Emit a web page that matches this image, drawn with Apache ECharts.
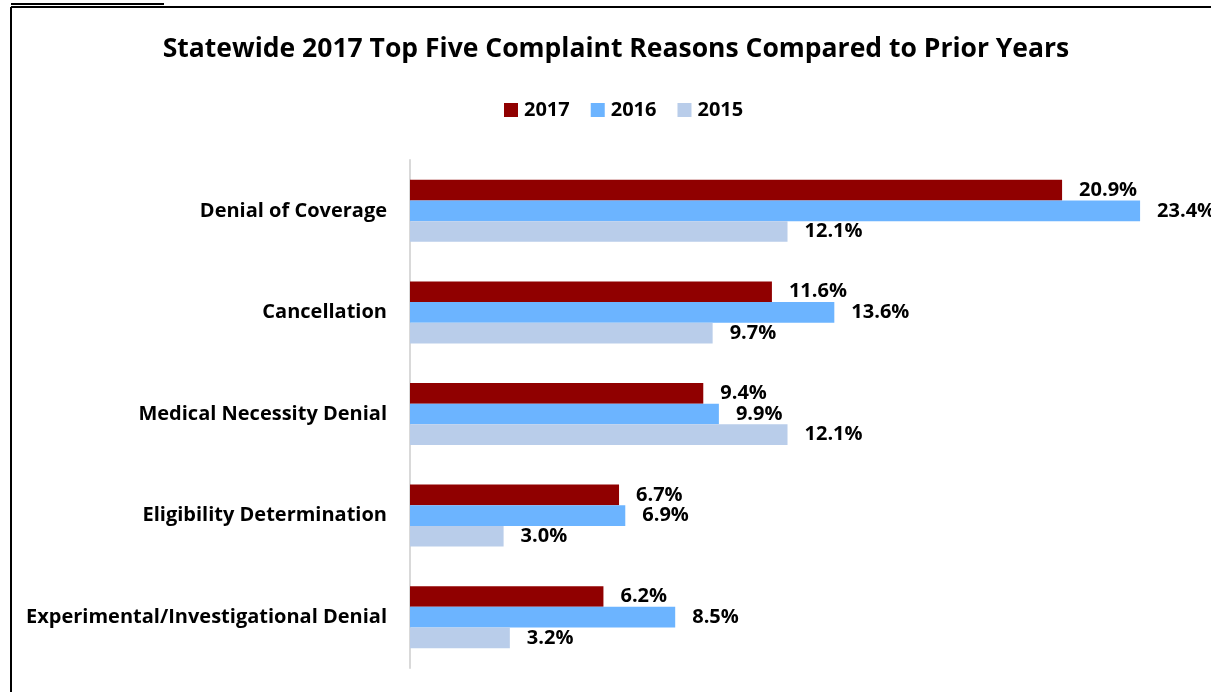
<!DOCTYPE html>
<html>
<head>
<meta charset="utf-8">
<script src="https://cdn.jsdelivr.net/npm/echarts@6/dist/echarts.min.js"></script>
<style>
  html, body { margin: 0; padding: 0; background: #fff; }
  #chart { width: 1211px; height: 692px; }
</style>
</head>
<body>
<div id="chart"></div>
<script>
// Complaint reasons, listed top to bottom
const categories = [
  'Denial of Coverage',
  'Cancellation',
  'Medical Necessity Denial',
  'Eligibility Determination',
  'Experimental/Investigational Denial'
];
const values2017 = [20.9, 11.6, 9.4, 6.7, 6.2];
const values2016 = [23.4, 13.6, 9.9, 6.9, 8.5];
const values2015 = [12.1, 9.7, 12.1, 3.0, 3.2];
const seriesNames = ['2017', '2016', '2015'];
const seriesColors = ['#900000', '#6cb4ff', '#b9cdea'];

const font = '"Open Sans", sans-serif';

function barSeries(name, data, color) {
  return {
    name: name,
    type: 'bar',
    data: data,
    itemStyle: { color: color },
    barGap: '0%',
    barCategoryGap: '39%',
    label: {
      show: true,
      position: 'right',
      distance: 17,
      formatter: p => p.value.toFixed(1) + '%',
      fontFamily: font,
      fontWeight: 'bold',
      fontSize: 20,
      color: '#000'
    }
  };
}

const chart = echarts.init(document.getElementById('chart'));
chart.setOption({
  backgroundColor: '#fff',
  animation: false,
  title: {
    text: 'Statewide 2017 Top Five Complaint Reasons Compared to Prior Years',
    left: 611,
    textAlign: 'center',
    top: 31,
    textStyle: { fontFamily: font, fontWeight: 'bold', fontSize: 26.5, color: '#000' }
  },
  legend: {
    data: seriesNames,
    top: 95,
    left: 499,
    itemWidth: 14,
    itemHeight: 14,
    itemGap: 21,
    icon: 'rect',
    textStyle: { fontFamily: font, fontWeight: 'bold', fontSize: 20, color: '#000', padding: [0, 0, 0, 1] }
  },
  grid: { left: 410, top: 160, width: 780, height: 508 },
  xAxis: {
    type: 'value',
    min: 0,
    max: 25,
    show: false
  },
  yAxis: {
    type: 'category',
    data: categories,
    inverse: true,
    axisLine: { show: true, lineStyle: { color: '#d9d9d9', width: 2 } },
    axisTick: { show: false },
    axisLabel: {
      margin: 23,
      fontFamily: font,
      fontWeight: 'bold',
      fontSize: 20,
      color: '#000'
    }
  },
  series: [
    barSeries(seriesNames[0], values2017, seriesColors[0]),
    barSeries(seriesNames[1], values2016, seriesColors[1]),
    barSeries(seriesNames[2], values2015, seriesColors[2])
  ],
  graphic: [
    // frame around the figure
    { type: 'line', shape: { x1: 11, y1: 7, x2: 1211, y2: 7 }, style: { stroke: '#000', lineWidth: 2 } },
    { type: 'line', shape: { x1: 11, y1: 7, x2: 11, y2: 692 }, style: { stroke: '#000', lineWidth: 2 } },
    // underline of the figure caption above the frame
    { type: 'line', shape: { x1: 11, y1: 4, x2: 164, y2: 4 }, style: { stroke: '#000', lineWidth: 2 } }
  ]
});
</script>
</body>
</html>
